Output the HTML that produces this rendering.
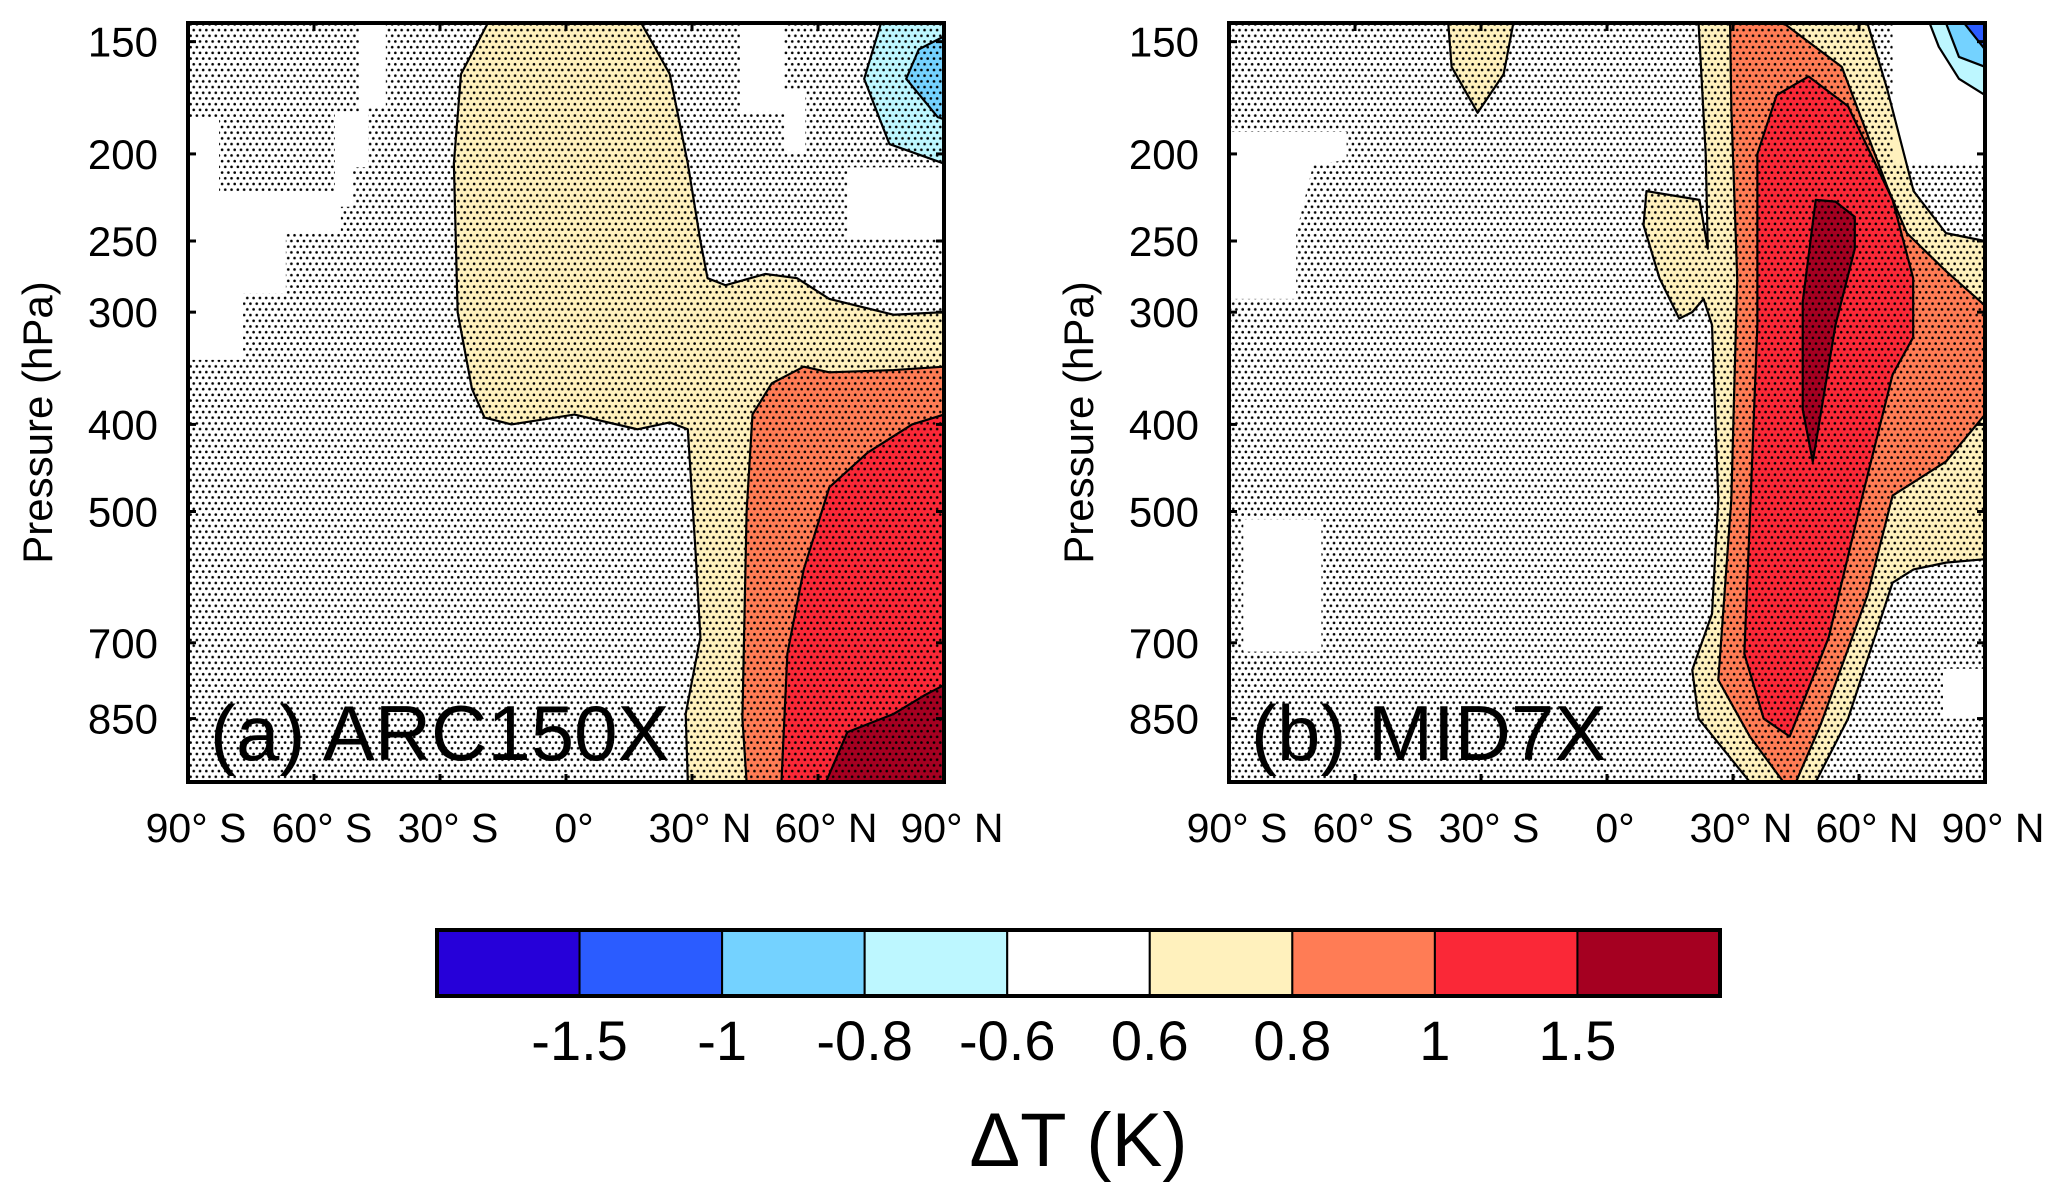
<!DOCTYPE html>
<html><head><meta charset="utf-8"><style>
html,body{margin:0;padding:0;background:#fff}
svg{display:block}
text{font-family:"Liberation Sans",sans-serif;fill:#000}
</style></head><body>
<svg id="chart" width="2067" height="1196" viewBox="0 0 2067 1196" xmlns="http://www.w3.org/2000/svg">
<defs>
<pattern id="dots" width="6.3" height="11.4" patternUnits="userSpaceOnUse">
<circle cx="1.6" cy="1.6" r="1.3" fill="#000"/><circle cx="4.75" cy="7.3" r="1.3" fill="#000"/>
</pattern>
</defs>
</svg>
<script>
// ---------- data ----------
const latTicks = [-90,-60,-30,0,30,60,90];
const latTickLabels = ["90° S","60° S","30° S","0°","30° N","60° N","90° N"];
const presTicks = [150,200,250,300,400,500,700,850];
const levelColors = ["#2600d9","#2b5cff","#74d2ff","#bdf7ff","#ffffff","#fff1bd","#ff7c55","#fa2837","#a50021"];
const levelLabels = ["-1.5","-1","-0.8","-0.6","0.6","0.8","1","1.5"];

// panel a contours [lat, hPa]
const aYellow = [[-18.6,143],[-25,163],[-26.7,205],[-25.8,300],[-22.4,365],[-19.4,393],[-13,400],[2,390],[17,405],[24.7,398],[29,405],[30.8,550],[32,690],[28.5,840],[29,1000],[90,1000],[90,300],[78,302],[62.7,290],[55,275],[47.5,272],[38,280],[33.7,275],[32,250],[29,205],[24.7,163],[17.9,143]];
const aOrange = [[43,1000],[42,850],[43,500],[44.4,390],[49,360],[56.6,345],[62.7,350],[78,348],[90,345],[90,1000]];
const aRed = [[51.3,1000],[52.7,720],[56.6,580],[62.7,470],[71.8,430],[82.4,400],[90,390],[90,1000]];
const aDark = [[61.9,1000],[67,880],[78,840],[85.5,800],[90,780],[90,1000]];
const aLightBlue = [[75,143],[71,165],[77,195],[90,205],[90,143]];
const aBlue = [[90,148],[84,153],[81,165],[88.5,182],[90,183]];
const aHoles = [
 [[-49.3,143],[-42.9,143],[-42.9,177],[-47.1,177],[-47.1,207],[-50.7,207],[-50.7,229],[-53.6,229],[-53.6,245],[-66.7,245],[-66.7,286],[-76.9,286],[-76.9,339],[-90,339],[-90,183],[-82.6,183],[-82.6,220],[-55,220],[-55,180],[-49.3,180]],
 [[41.4,143],[52,143],[52,170],[57,170],[57,200],[52,200],[52,180],[41.4,180]],
 [[67,207],[90,207],[90,249],[67,249]]
];
// panel b contours
const bYellowTop = [[-37.8,143],[-37,160],[-30.8,180],[-24.6,163],[-22.3,143]];
const bYellow = [[21.8,143],[23.5,200],[24,255],[22,225],[9.4,220],[8.7,240],[12.5,275],[17.2,305],[20.3,300],[23,290],[25,310],[26.5,485],[25,650],[20.3,750],[21.8,850],[34,1000],[49.7,1000],[57.4,850],[68,600],[73,580],[80.7,570],[90,565],[90,250],[80.7,245],[73,220],[66.8,170],[63.7,152],[62,143]];
const bOrange = [[29.3,143],[29.6,178],[31,275],[29.6,485],[26.5,770],[34,890],[42,1000],[45,1000],[51,860],[62,620],[68,480],[80.7,440],[90,390],[90,295],[80.7,270],[71.4,245],[66.8,218],[55.9,160],[42,143]];
const bRed = [[35.8,200],[40.4,172],[48,164],[57.4,177],[68,225],[72.9,275],[72.9,320],[68,352],[60.6,485],[52.8,690],[43.5,890],[37.3,850],[32.7,720],[34.2,485],[35.8,310]];
const bDark = [[49.7,225],[54.4,226],[59,235],[59,255],[54.4,310],[49,440],[46.6,385],[46.6,292]];
const bLightBlue = [[76.8,143],[79,152],[83.8,165],[90,172],[90,143]];
const bBlue = [[80.7,143],[83.8,156],[90,160],[90,143]];
const bDeepBlue = [[85,143],[90,153],[90,143]];
const bHoles = [
 [[-90,189],[-62,189],[-62,203],[-70,206],[-74,245],[-74,290],[-90,290]],
 [[-86.6,510],[-68,510],[-68,716],[-86.6,716]],
 [[80,748],[90,748],[90,850],[80,850]],
 [[68,143],[90,143],[90,206],[68,206]]
];

// ---------- drawing ----------
const NS="http://www.w3.org/2000/svg";
const svg=document.getElementById('chart');
function mk(tag,attrs,parent){const e=document.createElementNS(NS,tag);for(const k in attrs)e.setAttribute(k,attrs[k]);(parent||svg).appendChild(e);return e;}
const PT=143,PB=1000;
function makePanel(id,x0,x1,y0,y1,label,contours,holes){
  const w=x1-x0,h=y1-y0;
  const X=lat=>x0+(lat+90)/180*w;
  const Y=p=>y0+(Math.log(p)-Math.log(PT))/(Math.log(PB)-Math.log(PT))*h;
  const g=mk('g',{});
  
  
  const clip=mk('clipPath',{id:'clip'+id},svg.querySelector('defs'));
  mk('rect',{x:x0,y:y0,width:w,height:h},clip);
  const mask=mk('mask',{id:'mask'+id},svg.querySelector('defs'));
  mk('rect',{x:x0,y:y0,width:w,height:h,fill:'#fff'},mask);
  holes.forEach(hp=>mk('polygon',{points:hp.map(q=>X(q[0])+','+Y(q[1])).join(' '),fill:'#000'},mask));
  const cg=mk('g',{'clip-path':'url(#clip'+id+')'},g);
  contours.forEach(c=>{
    const poly=mk('polygon',{points:c.pts.map(q=>X(q[0])+','+Y(q[1])).join(' '),fill:c.color,stroke:'#000','stroke-width':2.2,'stroke-linejoin':'round'},cg);
    
    
  });
  const st=mk('rect',{x:x0,y:y0,width:w,height:h,fill:'url(#dots)',mask:'url(#mask'+id+')'},g);
  
  
  const frame=mk('rect',{x:x0,y:y0,width:w,height:h,fill:'none',stroke:'#000','stroke-width':4},g);
  
  
  latTicks.forEach((lat,i)=>{
    mk('line',{x1:X(lat),x2:X(lat),y1:y1,y2:y1-8,stroke:'#000','stroke-width':3},g);
    mk('line',{x1:X(lat),x2:X(lat),y1:y0,y2:y0+8,stroke:'#000','stroke-width':3},g);
    const t=mk('text',{x:X(lat)+8,y:y1+60,'font-size':41,'text-anchor':'middle'},g);
    t.textContent=latTickLabels[i];
    
    
  });
  presTicks.forEach(p=>{
    mk('line',{x1:x0,x2:x0+8,y1:Y(p),y2:Y(p),stroke:'#000','stroke-width':3},g);
    mk('line',{x1:x1,x2:x1-8,y1:Y(p),y2:Y(p),stroke:'#000','stroke-width':3},g);
    const t=mk('text',{x:x0-30,y:Y(p)+15,'font-size':42,'text-anchor':'end'},g);
    t.textContent=p;
    
    
  });
  const yt=mk('text',{x:0,y:0,'font-size':42,'text-anchor':'middle',transform:`translate(${x0-136},${(y0+y1)/2+20}) rotate(-90)`},g);
  yt.textContent='Pressure (hPa)';
  
  
  const pl=mk('text',{x:x0+22,y:y1-22,'font-size':78},g);
  pl.textContent=label;
  
  
}
makePanel('a',188,944,23,782,'(a) ARC150X',[
  {pts:aYellow,color:levelColors[5],name:'contour-0p6'},
  {pts:aOrange,color:levelColors[6],name:'contour-0p8'},
  {pts:aRed,color:levelColors[7],name:'contour-1'},
  {pts:aDark,color:levelColors[8],name:'contour-1p5'},
  {pts:aLightBlue,color:levelColors[3],name:'contour-neg0p6'},
  {pts:aBlue,color:levelColors[2],name:'contour-neg0p8'}],aHoles);
makePanel('b',1229,1985,23,782,'(b) MID7X',[
  {pts:bYellowTop,color:levelColors[5],name:'contour-0p6-upper'},
  {pts:bYellow,color:levelColors[5],name:'contour-0p6'},
  {pts:bOrange,color:levelColors[6],name:'contour-0p8'},
  {pts:bRed,color:levelColors[7],name:'contour-1'},
  {pts:bDark,color:levelColors[8],name:'contour-1p5'},
  {pts:bLightBlue,color:levelColors[3],name:'contour-neg0p6'},
  {pts:bBlue,color:levelColors[2],name:'contour-neg0p8'},
  {pts:bDeepBlue,color:levelColors[1],name:'contour-neg1'}],bHoles);

// colorbar
const cbX0=437,cbX1=1720,cbY0=930,cbY1=996;
const cw=(cbX1-cbX0)/levelColors.length;
const cb=mk('g',{});


levelColors.forEach((c,i)=>{
  const r=mk('rect',{x:cbX0+i*cw,y:cbY0,width:cw,height:cbY1-cbY0,fill:c,stroke:'#000','stroke-width':2},cb);
  
  
});
mk('rect',{x:cbX0,y:cbY0,width:cbX1-cbX0,height:cbY1-cbY0,fill:'none',stroke:'#000','stroke-width':4},cb);
levelLabels.forEach((l,i)=>{
  const t=mk('text',{x:cbX0+(i+1)*cw,y:1060,'font-size':56,'text-anchor':'middle'},cb);
  t.textContent=l;
  
  
});
const ct=mk('text',{x:(cbX0+cbX1)/2,y:1166,'font-size':76,'text-anchor':'middle'},cb);
ct.textContent='ΔT (K)';


</script>
</body></html>
